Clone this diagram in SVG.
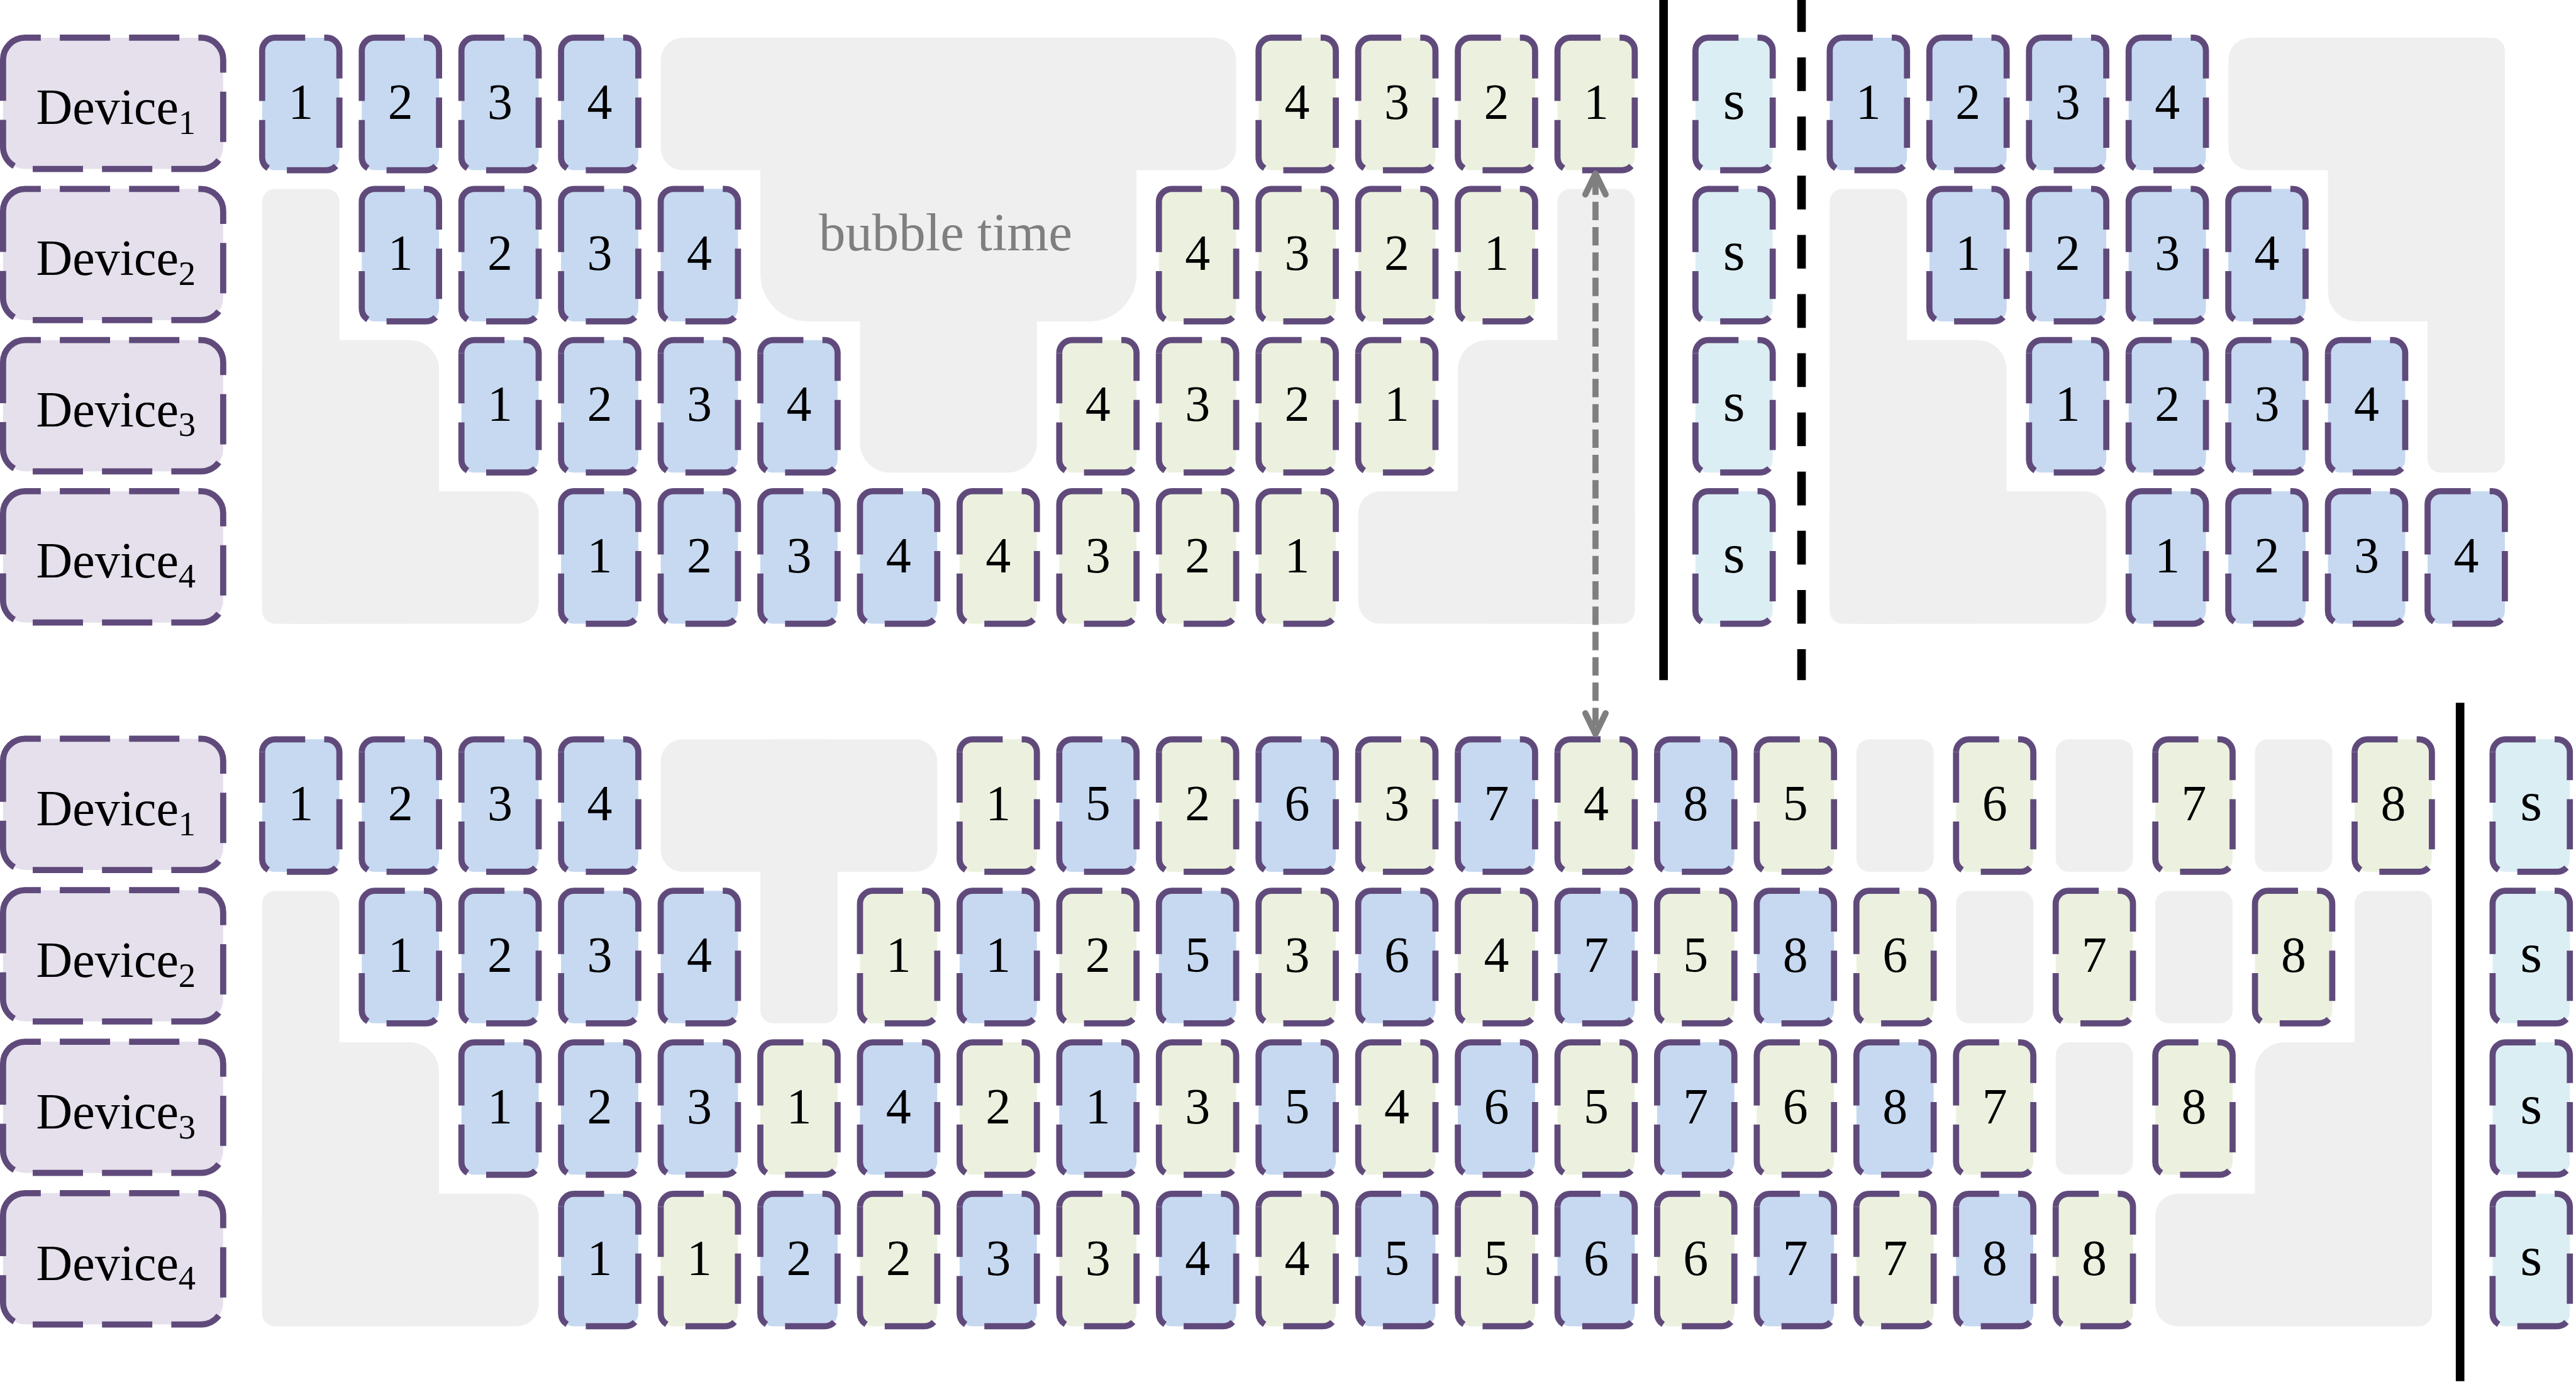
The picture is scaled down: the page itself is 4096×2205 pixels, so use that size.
<svg xmlns="http://www.w3.org/2000/svg" width="4096" height="2205" viewBox="0 0 4096 2205">
<style>
.bg{fill:#FFFFFF}
.gr{fill:#EFEFEF}
.b{fill:#C6D9F1}
.g{fill:#EBF1DE}
.s{fill:#DBEEF4}
.d{fill:#E5E0EC}
.ol{stroke:#604A7B;stroke-width:10;stroke-dasharray:82 31}
.n{font-family:"Liberation Serif","Times New Roman",serif;font-size:82px;text-anchor:middle;fill:#000}
.sl{font-family:"Liberation Serif","Times New Roman",serif;font-size:92px;text-anchor:middle;fill:#000}
.dl{font-family:"Liberation Serif","Times New Roman",serif;font-size:82px;fill:#000}
.sub{font-size:56px}
.bub{font-family:"Liberation Serif","Times New Roman",serif;font-size:87px;text-anchor:middle;fill:#7F7F7F}
.sep{stroke:#000;stroke-width:14;fill:none}
.arr{stroke:#7F7F7F;stroke-width:10;fill:none;stroke-dasharray:30 11.25;stroke-dashoffset:36.5}
</style>
<defs>
<path id="blk" class="ol" d="M0,21 A21,21 0 0 1 21,0 H105 A21,21 0 0 1 126,21 V195 A21,21 0 0 1 105,216 H21 A21,21 0 0 1 0,195 Z"/>
<path id="dev" class="ol" d="M0,36 A36,36 0 0 1 36,0 H323 A36,36 0 0 1 359,36 V178 A36,36 0 0 1 323,214 H36 A36,36 0 0 1 0,178 Z"/>
<marker id="chev" markerUnits="userSpaceOnUse" viewBox="-50 -30 60 60" refX="0" refY="0" markerWidth="60" markerHeight="60" orient="auto-start-reverse" overflow="visible">
<path d="M-34,-16.5 L0,0 L-34,16.5" fill="none" stroke="#7F7F7F" stroke-width="10" stroke-linecap="round" stroke-linejoin="round"/>
</marker>
</defs>
<rect class="bg" x="0" y="0" width="4096" height="2205"/>
<g transform="scale(0.975)">

<g id="bubbles">
<g id="top-gray-left">
<rect class="gr" x="427.5" y="308" width="126" height="709" rx="21"/>
<rect class="gr" x="427.5" y="554.5" width="288.5" height="462.5" rx="48"/>
<rect class="gr" x="427.5" y="801" width="451" height="216" rx="36"/>
</g>
<g id="top-gray-middle">
<rect class="gr" x="1077.5" y="61.5" width="938.5" height="216" rx="36"/>
<rect class="gr" x="1240" y="61.5" width="613.5" height="462.5" rx="77"/>
<rect class="gr" x="1402.5" y="61.5" width="288.5" height="709" rx="48"/>
<text class="bub" x="1542" y="408">bubble time</text>
</g>
<g id="top-gray-right">
<rect class="gr" x="2540" y="308" width="126" height="709" rx="21"/>
<rect class="gr" x="2377.5" y="554.5" width="288.5" height="462.5" rx="48"/>
<rect class="gr" x="2215" y="801" width="451" height="216" rx="36"/>
</g>
<g id="top2-gray-right">
<rect class="gr" x="3634" y="61.5" width="451" height="216" rx="36"/>
<rect class="gr" x="3796.5" y="61.5" width="288.5" height="462.5" rx="48"/>
<rect class="gr" x="3959" y="61.5" width="126" height="709" rx="21"/>
</g>
<g id="top2-gray-left">
<rect class="gr" x="2984" y="308" width="126" height="709" rx="21"/>
<rect class="gr" x="2984" y="554.5" width="288.5" height="462.5" rx="48"/>
<rect class="gr" x="2984" y="801" width="451" height="216" rx="36"/>
</g>
<g id="bot-gray-left">
<rect class="gr" x="427.5" y="1452.5" width="126" height="710" rx="21"/>
<rect class="gr" x="427.5" y="1699.5" width="288.5" height="463" rx="48"/>
<rect class="gr" x="427.5" y="1946.5" width="451" height="216" rx="36"/>
</g>
<g id="bot-gray-middle">
<rect class="gr" x="1077.5" y="1205.5" width="451" height="216" rx="36"/>
<rect class="gr" x="1240" y="1205.5" width="126" height="463" rx="21"/>
</g>
<g id="bot-gray-singles">
<rect class="gr" x="3027.5" y="1205.5" width="126" height="216" rx="21"/>
<rect class="gr" x="3352.5" y="1205.5" width="126" height="216" rx="21"/>
<rect class="gr" x="3677.5" y="1205.5" width="126" height="216" rx="21"/>
<rect class="gr" x="3190" y="1452.5" width="126" height="216" rx="21"/>
<rect class="gr" x="3515" y="1452.5" width="126" height="216" rx="21"/>
<rect class="gr" x="3352.5" y="1699.5" width="126" height="216" rx="21"/>
</g>
<g id="bot-gray-right">
<rect class="gr" x="3840" y="1452.5" width="126" height="710" rx="21"/>
<rect class="gr" x="3677.5" y="1699.5" width="288.5" height="463" rx="48"/>
<rect class="gr" x="3515" y="1946.5" width="451" height="216" rx="36"/>
</g>
</g>

<g id="devices">
<g id="top-dev1"><use href="#dev" x="5" y="61.5" class="d"/><text class="dl" x="59" y="202">Device<tspan class="sub" dy="16">1</tspan></text></g>
<g id="top-dev2"><use href="#dev" x="5" y="308" class="d"/><text class="dl" x="59" y="448.5">Device<tspan class="sub" dy="16">2</tspan></text></g>
<g id="top-dev3"><use href="#dev" x="5" y="554.5" class="d"/><text class="dl" x="59" y="695">Device<tspan class="sub" dy="16">3</tspan></text></g>
<g id="top-dev4"><use href="#dev" x="5" y="801" class="d"/><text class="dl" x="59" y="941.5">Device<tspan class="sub" dy="16">4</tspan></text></g>
<g id="bot-dev1"><use href="#dev" x="5" y="1204.5" class="d"/><text class="dl" x="59" y="1346">Device<tspan class="sub" dy="16">1</tspan></text></g>
<g id="bot-dev2"><use href="#dev" x="5" y="1451.5" class="d"/><text class="dl" x="59" y="1593">Device<tspan class="sub" dy="16">2</tspan></text></g>
<g id="bot-dev3"><use href="#dev" x="5" y="1698.5" class="d"/><text class="dl" x="59" y="1840">Device<tspan class="sub" dy="16">3</tspan></text></g>
<g id="bot-dev4"><use href="#dev" x="5" y="1945.5" class="d"/><text class="dl" x="59" y="2087">Device<tspan class="sub" dy="16">4</tspan></text></g>
</g>

<g id="top-blocks">
<g id="t-r0-c0"><use href="#blk" x="427.5" y="61.5" class="b"/><text class="n" x="490.5" y="193.5">1</text></g>
<g id="t-r0-c1"><use href="#blk" x="590" y="61.5" class="b"/><text class="n" x="653" y="193.5">2</text></g>
<g id="t-r0-c2"><use href="#blk" x="752.5" y="61.5" class="b"/><text class="n" x="815.5" y="193.5">3</text></g>
<g id="t-r0-c3"><use href="#blk" x="915" y="61.5" class="b"/><text class="n" x="978" y="193.5">4</text></g>
<g id="t-r0-c10"><use href="#blk" x="2052.5" y="61.5" class="g"/><text class="n" x="2115.5" y="193.5">4</text></g>
<g id="t-r0-c11"><use href="#blk" x="2215" y="61.5" class="g"/><text class="n" x="2278" y="193.5">3</text></g>
<g id="t-r0-c12"><use href="#blk" x="2377.5" y="61.5" class="g"/><text class="n" x="2440.5" y="193.5">2</text></g>
<g id="t-r0-c13"><use href="#blk" x="2540" y="61.5" class="g"/><text class="n" x="2603" y="193.5">1</text></g>

<g id="t-r1-c1"><use href="#blk" x="590" y="308" class="b"/><text class="n" x="653" y="440">1</text></g>
<g id="t-r1-c2"><use href="#blk" x="752.5" y="308" class="b"/><text class="n" x="815.5" y="440">2</text></g>
<g id="t-r1-c3"><use href="#blk" x="915" y="308" class="b"/><text class="n" x="978" y="440">3</text></g>
<g id="t-r1-c4"><use href="#blk" x="1077.5" y="308" class="b"/><text class="n" x="1140.5" y="440">4</text></g>
<g id="t-r1-c9"><use href="#blk" x="1890" y="308" class="g"/><text class="n" x="1953" y="440">4</text></g>
<g id="t-r1-c10"><use href="#blk" x="2052.5" y="308" class="g"/><text class="n" x="2115.5" y="440">3</text></g>
<g id="t-r1-c11"><use href="#blk" x="2215" y="308" class="g"/><text class="n" x="2278" y="440">2</text></g>
<g id="t-r1-c12"><use href="#blk" x="2377.5" y="308" class="g"/><text class="n" x="2440.5" y="440">1</text></g>

<g id="t-r2-c2"><use href="#blk" x="752.5" y="554.5" class="b"/><text class="n" x="815.5" y="686.5">1</text></g>
<g id="t-r2-c3"><use href="#blk" x="915" y="554.5" class="b"/><text class="n" x="978" y="686.5">2</text></g>
<g id="t-r2-c4"><use href="#blk" x="1077.5" y="554.5" class="b"/><text class="n" x="1140.5" y="686.5">3</text></g>
<g id="t-r2-c5"><use href="#blk" x="1240" y="554.5" class="b"/><text class="n" x="1303" y="686.5">4</text></g>
<g id="t-r2-c8"><use href="#blk" x="1727.5" y="554.5" class="g"/><text class="n" x="1790.5" y="686.5">4</text></g>
<g id="t-r2-c9"><use href="#blk" x="1890" y="554.5" class="g"/><text class="n" x="1953" y="686.5">3</text></g>
<g id="t-r2-c10"><use href="#blk" x="2052.5" y="554.5" class="g"/><text class="n" x="2115.5" y="686.5">2</text></g>
<g id="t-r2-c11"><use href="#blk" x="2215" y="554.5" class="g"/><text class="n" x="2278" y="686.5">1</text></g>

<g id="t-r3-c3"><use href="#blk" x="915" y="801" class="b"/><text class="n" x="978" y="933">1</text></g>
<g id="t-r3-c4"><use href="#blk" x="1077.5" y="801" class="b"/><text class="n" x="1140.5" y="933">2</text></g>
<g id="t-r3-c5"><use href="#blk" x="1240" y="801" class="b"/><text class="n" x="1303" y="933">3</text></g>
<g id="t-r3-c6"><use href="#blk" x="1402.5" y="801" class="b"/><text class="n" x="1465.5" y="933">4</text></g>
<g id="t-r3-c7"><use href="#blk" x="1565" y="801" class="g"/><text class="n" x="1628" y="933">4</text></g>
<g id="t-r3-c8"><use href="#blk" x="1727.5" y="801" class="g"/><text class="n" x="1790.5" y="933">3</text></g>
<g id="t-r3-c9"><use href="#blk" x="1890" y="801" class="g"/><text class="n" x="1953" y="933">2</text></g>
<g id="t-r3-c10"><use href="#blk" x="2052.5" y="801" class="g"/><text class="n" x="2115.5" y="933">1</text></g>

<g id="t-s0"><use href="#blk" x="2765" y="61.5" class="s"/><text class="sl" x="2828" y="193.5">s</text></g>
<g id="t-s1"><use href="#blk" x="2765" y="308" class="s"/><text class="sl" x="2828" y="440">s</text></g>
<g id="t-s2"><use href="#blk" x="2765" y="554.5" class="s"/><text class="sl" x="2828" y="686.5">s</text></g>
<g id="t-s3"><use href="#blk" x="2765" y="801" class="s"/><text class="sl" x="2828" y="933">s</text></g>

<g id="t2-r0-j0"><use href="#blk" x="2984" y="61.5" class="b"/><text class="n" x="3047" y="193.5">1</text></g>
<g id="t2-r0-j1"><use href="#blk" x="3146.5" y="61.5" class="b"/><text class="n" x="3209.5" y="193.5">2</text></g>
<g id="t2-r0-j2"><use href="#blk" x="3309" y="61.5" class="b"/><text class="n" x="3372" y="193.5">3</text></g>
<g id="t2-r0-j3"><use href="#blk" x="3471.5" y="61.5" class="b"/><text class="n" x="3534.5" y="193.5">4</text></g>
<g id="t2-r1-j1"><use href="#blk" x="3146.5" y="308" class="b"/><text class="n" x="3209.5" y="440">1</text></g>
<g id="t2-r1-j2"><use href="#blk" x="3309" y="308" class="b"/><text class="n" x="3372" y="440">2</text></g>
<g id="t2-r1-j3"><use href="#blk" x="3471.5" y="308" class="b"/><text class="n" x="3534.5" y="440">3</text></g>
<g id="t2-r1-j4"><use href="#blk" x="3634" y="308" class="b"/><text class="n" x="3697" y="440">4</text></g>
<g id="t2-r2-j2"><use href="#blk" x="3309" y="554.5" class="b"/><text class="n" x="3372" y="686.5">1</text></g>
<g id="t2-r2-j3"><use href="#blk" x="3471.5" y="554.5" class="b"/><text class="n" x="3534.5" y="686.5">2</text></g>
<g id="t2-r2-j4"><use href="#blk" x="3634" y="554.5" class="b"/><text class="n" x="3697" y="686.5">3</text></g>
<g id="t2-r2-j5"><use href="#blk" x="3796.5" y="554.5" class="b"/><text class="n" x="3859.5" y="686.5">4</text></g>
<g id="t2-r3-j3"><use href="#blk" x="3471.5" y="801" class="b"/><text class="n" x="3534.5" y="933">1</text></g>
<g id="t2-r3-j4"><use href="#blk" x="3634" y="801" class="b"/><text class="n" x="3697" y="933">2</text></g>
<g id="t2-r3-j5"><use href="#blk" x="3796.5" y="801" class="b"/><text class="n" x="3859.5" y="933">3</text></g>
<g id="t2-r3-j6"><use href="#blk" x="3959" y="801" class="b"/><text class="n" x="4022" y="933">4</text></g>
</g>

<g id="bottom-blocks">
<g id="b-r0-c0"><use href="#blk" x="427.5" y="1205.5" class="b"/><text class="n" x="490.5" y="1337.5">1</text></g>
<g id="b-r0-c1"><use href="#blk" x="590" y="1205.5" class="b"/><text class="n" x="653" y="1337.5">2</text></g>
<g id="b-r0-c2"><use href="#blk" x="752.5" y="1205.5" class="b"/><text class="n" x="815.5" y="1337.5">3</text></g>
<g id="b-r0-c3"><use href="#blk" x="915" y="1205.5" class="b"/><text class="n" x="978" y="1337.5">4</text></g>
<g id="b-r0-c7"><use href="#blk" x="1565" y="1205.5" class="g"/><text class="n" x="1628" y="1337.5">1</text></g>
<g id="b-r0-c8"><use href="#blk" x="1727.5" y="1205.5" class="b"/><text class="n" x="1790.5" y="1337.5">5</text></g>
<g id="b-r0-c9"><use href="#blk" x="1890" y="1205.5" class="g"/><text class="n" x="1953" y="1337.5">2</text></g>
<g id="b-r0-c10"><use href="#blk" x="2052.5" y="1205.5" class="b"/><text class="n" x="2115.5" y="1337.5">6</text></g>
<g id="b-r0-c11"><use href="#blk" x="2215" y="1205.5" class="g"/><text class="n" x="2278" y="1337.5">3</text></g>
<g id="b-r0-c12"><use href="#blk" x="2377.5" y="1205.5" class="b"/><text class="n" x="2440.5" y="1337.5">7</text></g>
<g id="b-r0-c13"><use href="#blk" x="2540" y="1205.5" class="g"/><text class="n" x="2603" y="1337.5">4</text></g>
<g id="b-r0-c14"><use href="#blk" x="2702.5" y="1205.5" class="b"/><text class="n" x="2765.5" y="1337.5">8</text></g>
<g id="b-r0-c15"><use href="#blk" x="2865" y="1205.5" class="g"/><text class="n" x="2928" y="1337.5">5</text></g>
<g id="b-r0-c17"><use href="#blk" x="3190" y="1205.5" class="g"/><text class="n" x="3253" y="1337.5">6</text></g>
<g id="b-r0-c19"><use href="#blk" x="3515" y="1205.5" class="g"/><text class="n" x="3578" y="1337.5">7</text></g>
<g id="b-r0-c21"><use href="#blk" x="3840" y="1205.5" class="g"/><text class="n" x="3903" y="1337.5">8</text></g>

<g id="b-r1-c1"><use href="#blk" x="590" y="1452.5" class="b"/><text class="n" x="653" y="1584.5">1</text></g>
<g id="b-r1-c2"><use href="#blk" x="752.5" y="1452.5" class="b"/><text class="n" x="815.5" y="1584.5">2</text></g>
<g id="b-r1-c3"><use href="#blk" x="915" y="1452.5" class="b"/><text class="n" x="978" y="1584.5">3</text></g>
<g id="b-r1-c4"><use href="#blk" x="1077.5" y="1452.5" class="b"/><text class="n" x="1140.5" y="1584.5">4</text></g>
<g id="b-r1-c6"><use href="#blk" x="1402.5" y="1452.5" class="g"/><text class="n" x="1465.5" y="1584.5">1</text></g>
<g id="b-r1-c7"><use href="#blk" x="1565" y="1452.5" class="b"/><text class="n" x="1628" y="1584.5">1</text></g>
<g id="b-r1-c8"><use href="#blk" x="1727.5" y="1452.5" class="g"/><text class="n" x="1790.5" y="1584.5">2</text></g>
<g id="b-r1-c9"><use href="#blk" x="1890" y="1452.5" class="b"/><text class="n" x="1953" y="1584.5">5</text></g>
<g id="b-r1-c10"><use href="#blk" x="2052.5" y="1452.5" class="g"/><text class="n" x="2115.5" y="1584.5">3</text></g>
<g id="b-r1-c11"><use href="#blk" x="2215" y="1452.5" class="b"/><text class="n" x="2278" y="1584.5">6</text></g>
<g id="b-r1-c12"><use href="#blk" x="2377.5" y="1452.5" class="g"/><text class="n" x="2440.5" y="1584.5">4</text></g>
<g id="b-r1-c13"><use href="#blk" x="2540" y="1452.5" class="b"/><text class="n" x="2603" y="1584.5">7</text></g>
<g id="b-r1-c14"><use href="#blk" x="2702.5" y="1452.5" class="g"/><text class="n" x="2765.5" y="1584.5">5</text></g>
<g id="b-r1-c15"><use href="#blk" x="2865" y="1452.5" class="b"/><text class="n" x="2928" y="1584.5">8</text></g>
<g id="b-r1-c16"><use href="#blk" x="3027.5" y="1452.5" class="g"/><text class="n" x="3090.5" y="1584.5">6</text></g>
<g id="b-r1-c18"><use href="#blk" x="3352.5" y="1452.5" class="g"/><text class="n" x="3415.5" y="1584.5">7</text></g>
<g id="b-r1-c20"><use href="#blk" x="3677.5" y="1452.5" class="g"/><text class="n" x="3740.5" y="1584.5">8</text></g>

<g id="b-r2-c2"><use href="#blk" x="752.5" y="1699.5" class="b"/><text class="n" x="815.5" y="1831.5">1</text></g>
<g id="b-r2-c3"><use href="#blk" x="915" y="1699.5" class="b"/><text class="n" x="978" y="1831.5">2</text></g>
<g id="b-r2-c4"><use href="#blk" x="1077.5" y="1699.5" class="b"/><text class="n" x="1140.5" y="1831.5">3</text></g>
<g id="b-r2-c5"><use href="#blk" x="1240" y="1699.5" class="g"/><text class="n" x="1303" y="1831.5">1</text></g>
<g id="b-r2-c6"><use href="#blk" x="1402.5" y="1699.5" class="b"/><text class="n" x="1465.5" y="1831.5">4</text></g>
<g id="b-r2-c7"><use href="#blk" x="1565" y="1699.5" class="g"/><text class="n" x="1628" y="1831.5">2</text></g>
<g id="b-r2-c8"><use href="#blk" x="1727.5" y="1699.5" class="b"/><text class="n" x="1790.5" y="1831.5">1</text></g>
<g id="b-r2-c9"><use href="#blk" x="1890" y="1699.5" class="g"/><text class="n" x="1953" y="1831.5">3</text></g>
<g id="b-r2-c10"><use href="#blk" x="2052.5" y="1699.5" class="b"/><text class="n" x="2115.5" y="1831.5">5</text></g>
<g id="b-r2-c11"><use href="#blk" x="2215" y="1699.5" class="g"/><text class="n" x="2278" y="1831.5">4</text></g>
<g id="b-r2-c12"><use href="#blk" x="2377.5" y="1699.5" class="b"/><text class="n" x="2440.5" y="1831.5">6</text></g>
<g id="b-r2-c13"><use href="#blk" x="2540" y="1699.5" class="g"/><text class="n" x="2603" y="1831.5">5</text></g>
<g id="b-r2-c14"><use href="#blk" x="2702.5" y="1699.5" class="b"/><text class="n" x="2765.5" y="1831.5">7</text></g>
<g id="b-r2-c15"><use href="#blk" x="2865" y="1699.5" class="g"/><text class="n" x="2928" y="1831.5">6</text></g>
<g id="b-r2-c16"><use href="#blk" x="3027.5" y="1699.5" class="b"/><text class="n" x="3090.5" y="1831.5">8</text></g>
<g id="b-r2-c17"><use href="#blk" x="3190" y="1699.5" class="g"/><text class="n" x="3253" y="1831.5">7</text></g>
<g id="b-r2-c19"><use href="#blk" x="3515" y="1699.5" class="g"/><text class="n" x="3578" y="1831.5">8</text></g>

<g id="b-r3-c3"><use href="#blk" x="915" y="1946.5" class="b"/><text class="n" x="978" y="2078.5">1</text></g>
<g id="b-r3-c4"><use href="#blk" x="1077.5" y="1946.5" class="g"/><text class="n" x="1140.5" y="2078.5">1</text></g>
<g id="b-r3-c5"><use href="#blk" x="1240" y="1946.5" class="b"/><text class="n" x="1303" y="2078.5">2</text></g>
<g id="b-r3-c6"><use href="#blk" x="1402.5" y="1946.5" class="g"/><text class="n" x="1465.5" y="2078.5">2</text></g>
<g id="b-r3-c7"><use href="#blk" x="1565" y="1946.5" class="b"/><text class="n" x="1628" y="2078.5">3</text></g>
<g id="b-r3-c8"><use href="#blk" x="1727.5" y="1946.5" class="g"/><text class="n" x="1790.5" y="2078.5">3</text></g>
<g id="b-r3-c9"><use href="#blk" x="1890" y="1946.5" class="b"/><text class="n" x="1953" y="2078.5">4</text></g>
<g id="b-r3-c10"><use href="#blk" x="2052.5" y="1946.5" class="g"/><text class="n" x="2115.5" y="2078.5">4</text></g>
<g id="b-r3-c11"><use href="#blk" x="2215" y="1946.5" class="b"/><text class="n" x="2278" y="2078.5">5</text></g>
<g id="b-r3-c12"><use href="#blk" x="2377.5" y="1946.5" class="g"/><text class="n" x="2440.5" y="2078.5">5</text></g>
<g id="b-r3-c13"><use href="#blk" x="2540" y="1946.5" class="b"/><text class="n" x="2603" y="2078.5">6</text></g>
<g id="b-r3-c14"><use href="#blk" x="2702.5" y="1946.5" class="g"/><text class="n" x="2765.5" y="2078.5">6</text></g>
<g id="b-r3-c15"><use href="#blk" x="2865" y="1946.5" class="b"/><text class="n" x="2928" y="2078.5">7</text></g>
<g id="b-r3-c16"><use href="#blk" x="3027.5" y="1946.5" class="g"/><text class="n" x="3090.5" y="2078.5">7</text></g>
<g id="b-r3-c17"><use href="#blk" x="3190" y="1946.5" class="b"/><text class="n" x="3253" y="2078.5">8</text></g>
<g id="b-r3-c18"><use href="#blk" x="3352.5" y="1946.5" class="g"/><text class="n" x="3415.5" y="2078.5">8</text></g>

<g id="b-s0"><use href="#blk" x="4065" y="1205.5" class="s"/><text class="sl" x="4128" y="1337.5">s</text></g>
<g id="b-s1"><use href="#blk" x="4065" y="1452.5" class="s"/><text class="sl" x="4128" y="1584.5">s</text></g>
<g id="b-s2"><use href="#blk" x="4065" y="1699.5" class="s"/><text class="sl" x="4128" y="1831.5">s</text></g>
<g id="b-s3"><use href="#blk" x="4065" y="1946.5" class="s"/><text class="sl" x="4128" y="2078.5">s</text></g>
</g>

<g id="separators">
<line class="sep" x1="2713" y1="0" x2="2713" y2="1109"/>
<line class="sep" x1="2938" y1="0" x2="2938" y2="1109" stroke-dasharray="55 41.5" stroke-dashoffset="3"/>
<line class="sep" x1="4012" y1="1146" x2="4012" y2="2252"/>
</g>

<g id="connectors">
<line class="arr" x1="2602" y1="283" x2="2602" y2="1197" marker-start="url(#chev)" marker-end="url(#chev)"/>
</g>

</g>
</svg>
